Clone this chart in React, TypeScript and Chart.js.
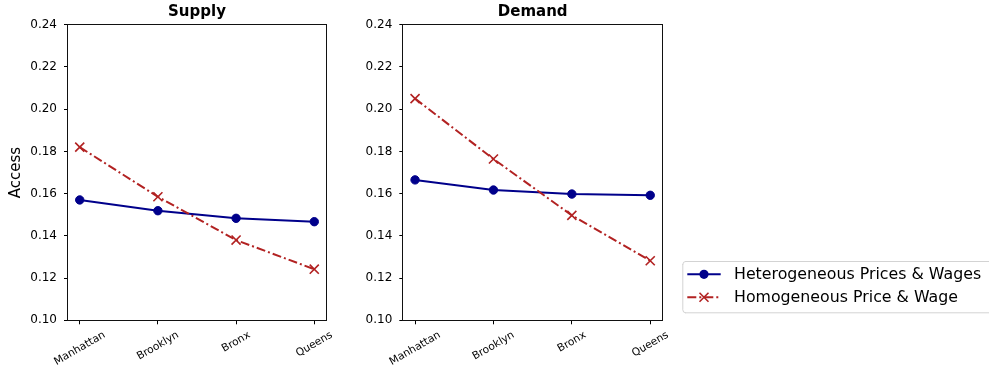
import React, { useEffect, useRef } from 'react';
import { Chart, registerables } from 'chart.js';

Chart.register(...registerables);

// Borough order along the x axis
const districts = ['Manhattan', 'Brooklyn', 'Bronx', 'Queens'];

// Access values per borough
const supplyHeterogeneous = [0.157, 0.1519, 0.1483, 0.1467];
const supplyHomogeneous = [0.182, 0.1585, 0.138, 0.1242];
const demandHeterogeneous = [0.1665, 0.1617, 0.1598, 0.1592];
const demandHomogeneous = [0.205, 0.1764, 0.1497, 0.1282];

const accessTicks = [0.1, 0.12, 0.14, 0.16, 0.18, 0.2, 0.22, 0.24];
const seriesLabels = ['Heterogeneous Prices & Wages', 'Homogeneous Price & Wage'];

const NAVY = '#00008b';
const FIREBRICK = '#b22222';
const FONT = "'DejaVu Sans', sans-serif";
const DASH_DOT = [9, 3, 2, 3];

// Full rectangular frame around the plotting area
const framePlugin = {
  id: 'frame',
  afterDraw(chart: any) {
    const { ctx, chartArea: a } = chart;
    const l = Math.round(a.left) - 0.5;
    const t = Math.round(a.top) - 0.5;
    const r = Math.round(a.right) + 0.5;
    const b = Math.round(a.bottom) + 0.5;
    ctx.save();
    ctx.strokeStyle = '#111';
    ctx.lineWidth = 1;
    ctx.strokeRect(l, t, r - l, b - t);
    ctx.restore();
  },
};

// Panel title centred above the plotting area
const panelTitlePlugin = {
  id: 'panelTitle',
  afterDraw(chart: any, _args: any, opts: any) {
    const { ctx, chartArea: a } = chart;
    ctx.save();
    ctx.font = `bold 15px ${FONT}`;
    ctx.fillStyle = '#000';
    ctx.textAlign = 'center';
    ctx.textBaseline = 'middle';
    ctx.fillText(opts.text, (a.left + a.right) / 2, 12.5);
    ctx.restore();
  },
};

// Borough names, rotated 30 degrees and centred under each tick
const districtLabelsPlugin = {
  id: 'districtLabels',
  afterDraw(chart: any) {
    const { ctx, chartArea: a } = chart;
    const xs = chart.scales.x;
    const size = 10.6;
    const lineH = size * 1.17;
    const top = a.bottom + 8.6;
    const ang = (30 * Math.PI) / 180;
    ctx.save();
    ctx.font = `${size}px ${FONT}`;
    ctx.fillStyle = '#000';
    ctx.textAlign = 'center';
    ctx.textBaseline = 'middle';
    districts.forEach((name, i) => {
      const w = ctx.measureText(name).width;
      const bh = w * Math.sin(ang) + lineH * Math.cos(ang);
      const cx = xs.getPixelForValue(i);
      const cy = top + bh / 2;
      ctx.save();
      ctx.translate(cx, cy);
      ctx.rotate(-ang);
      ctx.fillText(name, 0, 0);
      ctx.restore();
    });
    ctx.restore();
  },
};

// Legend box drawn to the right of the second panel
const legendBoxPlugin = {
  id: 'legendBox',
  afterDraw(chart: any, _args: any, opts: any) {
    if (!opts.show) return;
    const { ctx } = chart;
    const x0 = 342.3;
    const y0 = 261;
    const x1 = chart.width + 3;
    const y1 = 312.3;
    const rad = 3;
    ctx.save();
    ctx.beginPath();
    ctx.moveTo(x0 + rad, y0 + 0.5);
    ctx.lineTo(x1 - rad, y0 + 0.5);
    ctx.arcTo(x1, y0 + 0.5, x1, y0 + rad, rad);
    ctx.lineTo(x1, y1 - rad);
    ctx.arcTo(x1, y1 + 0.5, x1 - rad, y1 + 0.5, rad);
    ctx.lineTo(x0 + rad, y1 + 0.5);
    ctx.arcTo(x0 + 0.5, y1 + 0.5, x0 + 0.5, y1 - rad, rad);
    ctx.lineTo(x0 + 0.5, y0 + rad);
    ctx.arcTo(x0 + 0.5, y0 + 0.5, x0 + rad, y0 + 0.5, rad);
    ctx.closePath();
    ctx.fillStyle = 'rgba(255,255,255,0.8)';
    ctx.fill();
    ctx.strokeStyle = '#d3d3d3';
    ctx.lineWidth = 1;
    ctx.stroke();

    const lx0 = 347.3;
    const lx1 = 380.7;
    const mx = (lx0 + lx1) / 2;
    const rows = [274.3, 297.3];
    rows.forEach((y, i) => {
      const color = i === 0 ? NAVY : FIREBRICK;
      ctx.strokeStyle = color;
      ctx.lineWidth = 2;
      ctx.setLineDash(i === 0 ? [] : DASH_DOT);
      ctx.beginPath();
      ctx.moveTo(lx0, y);
      ctx.lineTo(lx1, y);
      ctx.stroke();
      ctx.setLineDash([]);
      if (i === 0) {
        ctx.fillStyle = NAVY;
        ctx.beginPath();
        ctx.arc(mx, y, 4.6, 0, Math.PI * 2);
        ctx.fill();
      } else {
        const d = 4.5;
        ctx.lineWidth = 1.6;
        ctx.beginPath();
        ctx.moveTo(mx - d, y - d);
        ctx.lineTo(mx + d, y + d);
        ctx.moveTo(mx + d, y - d);
        ctx.lineTo(mx - d, y + d);
        ctx.stroke();
      }
      ctx.font = `15.8px ${FONT}`;
      ctx.fillStyle = '#000';
      ctx.textAlign = 'left';
      ctx.textBaseline = 'middle';
      ctx.fillText(seriesLabels[i], 394, y + 0.5);
    });
    ctx.restore();
  },
};

type PanelProps = {
  title: string;
  heterogeneous: number[];
  homogeneous: number[];
  left: number;
  width: number;
  padLeft: number;
  padRight: number;
  yWidth: number;
  showYTitle: boolean;
  showLegend: boolean;
};

function Panel(props: PanelProps) {
  const ref = useRef<HTMLCanvasElement | null>(null);

  useEffect(() => {
    if (!ref.current) return;
    const chart = new Chart(ref.current, {
      type: 'line',
      data: {
        datasets: [
          {
            label: seriesLabels[0],
            data: props.heterogeneous.map((y, i) => ({ x: i, y })),
            borderColor: NAVY,
            backgroundColor: NAVY,
            borderWidth: 2,
            pointStyle: 'circle',
            pointRadius: 4.2,
            pointBorderWidth: 1,
            pointBackgroundColor: NAVY,
            pointBorderColor: NAVY,
            tension: 0,
            order: 1,
          },
          {
            label: seriesLabels[1],
            data: props.homogeneous.map((y, i) => ({ x: i, y })),
            borderColor: FIREBRICK,
            backgroundColor: FIREBRICK,
            borderWidth: 2,
            borderDash: DASH_DOT,
            pointStyle: 'crossRot',
            pointRadius: 6.4,
            pointBorderWidth: 1.6,
            pointBorderColor: FIREBRICK,
            tension: 0,
            order: 0,
          },
        ],
      },
      options: {
        responsive: false,
        animation: false,
        events: [],
        layout: {
          padding: { left: props.padLeft, right: props.padRight, top: 24.7, bottom: 0 },
        },
        plugins: {
          legend: { display: false },
          tooltip: { enabled: false },
          title: { display: false },
          panelTitle: { text: props.title },
          legendBox: { show: props.showLegend },
        } as any,
        scales: {
          x: {
            type: 'linear',
            min: -0.15,
            max: 3.15,
            afterBuildTicks: (s: any) => {
              s.ticks = districts.map((_, i) => ({ value: i }));
            },
            afterFit: (s: any) => {
              s.height = 49.7;
            },
            ticks: { display: false },
            grid: {
              display: true,
              drawOnChartArea: false,
              drawTicks: true,
              tickLength: 4,
              color: '#000',
              lineWidth: 1,
            },
            border: { display: false },
          },
          y: {
            type: 'linear',
            min: 0.1,
            max: 0.24,
            afterBuildTicks: (s: any) => {
              s.ticks = accessTicks.map((v) => ({ value: v }));
            },
            afterFit: (s: any) => {
              s.width = props.yWidth;
            },
            ticks: {
              color: '#000',
              font: { family: FONT, size: 12 },
              padding: 7,
              callback: (v: any) => Number(v).toFixed(2),
            },
            grid: {
              display: true,
              drawOnChartArea: false,
              drawTicks: true,
              tickLength: 4,
              color: '#000',
              lineWidth: 1,
            },
            border: { display: false },
            title: {
              display: props.showYTitle,
              text: 'Access',
              color: '#000',
              font: { family: FONT, size: 15 },
              padding: { top: 4, bottom: 0 },
            },
          },
        },
      } as any,
      plugins: [framePlugin, panelTitlePlugin, districtLabelsPlugin, legendBoxPlugin],
    });
    return () => chart.destroy();
  }, []);

  return (
    <canvas
      ref={ref}
      width={props.width}
      height={370}
      style={{ position: 'absolute', left: props.left, top: 0, width: props.width, height: 370, display: 'block' }}
    />
  );
}

export default function App() {
  return (
    <div
      style={{
        position: 'absolute',
        left: 0,
        top: 0,
        width: 989,
        height: 370,
        background: '#fff',
        overflow: 'hidden',
      }}
    >
      <Panel
        title="Supply"
        heterogeneous={supplyHeterogeneous}
        homogeneous={supplyHomogeneous}
        left={0}
        width={340}
        padLeft={3}
        padRight={14}
        yWidth={65}
        showYTitle={true}
        showLegend={false}
      />
      <Panel
        title="Demand"
        heterogeneous={demandHeterogeneous}
        homogeneous={demandHomogeneous}
        left={340}
        width={649}
        padLeft={0}
        padRight={327}
        yWidth={63.3}
        showYTitle={false}
        showLegend={true}
      />
    </div>
  );
}
